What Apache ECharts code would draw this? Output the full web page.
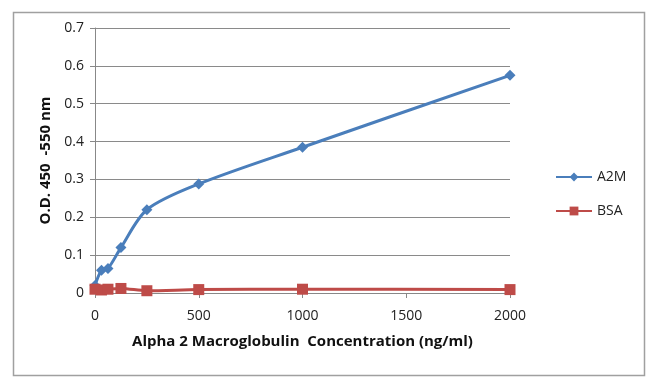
<!DOCTYPE html>
<html>
<head>
<meta charset="utf-8">
<script src="https://cdn.jsdelivr.net/npm/echarts@6/dist/echarts.min.js"></script>
<style>
html,body{margin:0;padding:0;background:#fff;}
#chart{width:650px;height:385px;}
</style>
</head>
<body>
<div id="chart"></div>
<script>
var concentrations = [0, 31.25, 62.5, 125, 250, 500, 1000, 2000];
var a2mValues = [0.02, 0.06, 0.065, 0.12, 0.22, 0.288, 0.385, 0.575];
var bsaValues = [0.01, 0.008, 0.01, 0.012, 0.006, 0.009, 0.01, 0.009];
var seriesNames = ['A2M', 'BSA'];
var xTitle = 'Alpha 2 Macroglobulin  Concentration (ng/ml)';
var yTitle = 'O.D. 450  -550 nm';

function pairs(xs, ys) { return xs.map(function (x, i) { return [x, ys[i]]; }); }

var font = '"Open Sans", "Liberation Sans", sans-serif';
var chart = echarts.init(document.getElementById('chart'), null, {renderer: 'canvas'});
chart.setOption({
  animation: false,
  backgroundColor: '#ffffff',
  textStyle: {fontFamily: font},
  graphic: [{
    type: 'rect', left: 11, top: 10, z: -10,
    shape: {width: 631, height: 363},
    style: {fill: 'none', stroke: '#a0a0a0', lineWidth: 1.5}
  }],
  grid: {left: 95, right: 140, top: 28, bottom: 92},
  legend: {
    orient: 'vertical', left: 550, top: 165, itemGap: 20,
    itemWidth: 36, itemHeight: 11,
    textStyle: {fontSize: 14, color: '#222', fontFamily: font},
    data: seriesNames
  },
  xAxis: {
    type: 'value', min: 0, max: 2000, interval: 500,
    name: xTitle, nameLocation: 'middle', nameGap: 41,
    nameTextStyle: {fontSize: 15, fontWeight: 'bold', color: '#111', fontFamily: font},
    axisLine: {show: true, lineStyle: {color: '#888', width: 1}},
    axisTick: {show: true, length: 5, lineStyle: {color: '#888'}},
    axisLabel: {fontSize: 14, color: '#222', margin: 16, formatter: function (v) { return String(v); }},
    splitLine: {show: false}
  },
  yAxis: {
    type: 'value', min: 0, max: 0.7, interval: 0.1,
    name: yTitle, nameLocation: 'middle', nameGap: 37, nameRotate: 90,
    nameTextStyle: {fontSize: 15, fontWeight: 'bold', color: '#111', fontFamily: font},
    axisLine: {show: true, lineStyle: {color: '#888', width: 1}},
    axisTick: {show: true, length: 5, lineStyle: {color: '#888'}},
    axisLabel: {fontSize: 14, color: '#222', margin: 11},
    splitLine: {show: true, lineStyle: {color: '#8a8a8a', width: 1}}
  },
  series: [{
    name: seriesNames[0], type: 'line', smooth: 0.3,
    data: pairs(concentrations, a2mValues),
    symbol: 'diamond', symbolSize: 11,
    lineStyle: {color: '#4a7ebb', width: 3},
    itemStyle: {color: '#4a7ebb'}
  }, {
    name: seriesNames[1], type: 'line', smooth: 0.3,
    data: pairs(concentrations, bsaValues),
    symbol: 'rect', symbolSize: 11,
    lineStyle: {color: '#be4b48', width: 3},
    itemStyle: {color: '#be4b48'}
  }]
});
</script>
</body>
</html>
